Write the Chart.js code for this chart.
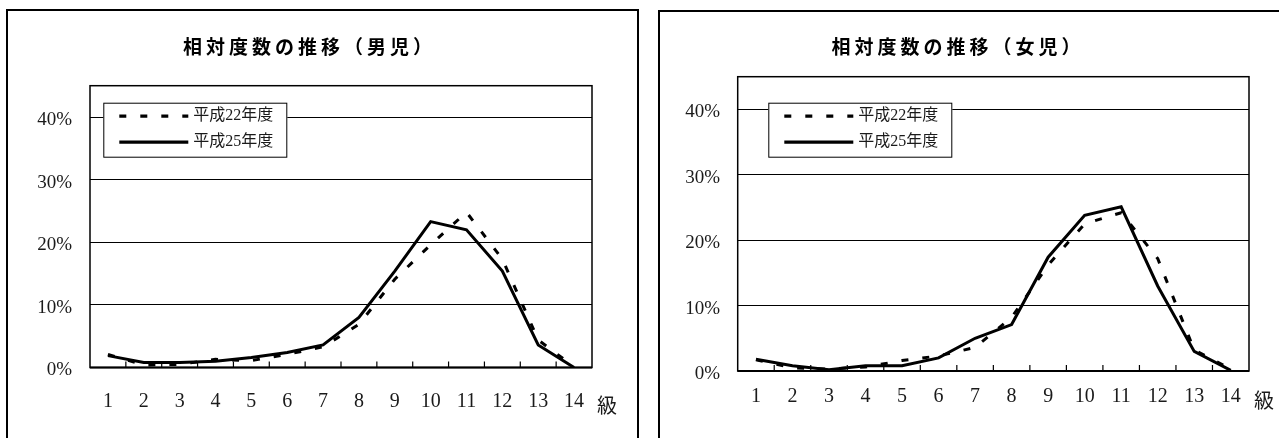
<!DOCTYPE html>
<html>
<head>
<meta charset="utf-8">
<script src="https://cdn.jsdelivr.net/npm/chart.js@4.4.1/dist/chart.umd.min.js"></script>
<style>
  body { margin: 0; background: #fff; width: 1279px; height: 438px; overflow: hidden; position: relative; }
  .frame { position: absolute; border: 2px solid #000; box-sizing: border-box; }
  #frameBoys { left: 6px; top: 9px; width: 633px; height: 500px; }
  #frameGirls { left: 658px; top: 10px; width: 700px; height: 500px; }
  canvas { position: absolute; top: 0; }
  #boys { left: 0; }
  #girls { left: 640px; }
</style>
</head>
<body>
<div class="frame" id="frameBoys"></div>
<div class="frame" id="frameGirls"></div>
<canvas id="boys" width="640" height="438"></canvas>
<canvas id="girls" width="639" height="438"></canvas>
<script>
// 級 (class) 1..14
const categories = ['1', '2', '3', '4', '5', '6', '7', '8', '9', '10', '11', '12', '13', '14']
const seriesLabels = ['平成22年度', '平成25年度']
const unitLabel = '級'
const yTicks = [0, 10, 20, 30, 40]   // %
const yMax = 45

// 相対度数 (%)
const boysH22 = [2.1, 0.4, 0.5, 1.3, 1.1, 2.1, 3.3, 6.9, 14.1, 19.6, 24.8, 17.3, 4.4, 0.1]
const boysH25 = [1.9, 0.8, 0.8, 1.0, 1.6, 2.4, 3.6, 8.0, 15.4, 23.3, 22.0, 15.4, 3.6, 0.0]
const girlsH22 = [1.7, 0.5, 0.3, 0.6, 1.6, 2.3, 3.6, 8.2, 16.2, 22.5, 24.2, 17.2, 3.2, 0.3]
const girlsH25 = [1.8, 0.8, 0.2, 0.8, 0.8, 2.0, 5.0, 7.1, 17.4, 23.8, 25.1, 13.0, 3.0, 0.1]

const serif = '"Liberation Serif", "Noto Sans CJK JP", serif'
const dash = [7, 14]

// title with a bit of letter spacing, like the original
const spacedTitle = {
  id: 'spacedTitle',
  afterInit(chart) {
    const t = chart.titleBlock
    const draw = t.draw.bind(t)
    t.draw = () => {
      chart.ctx.letterSpacing = '4px'
      draw()
      chart.ctx.letterSpacing = '0px'
    }
  }
}

// box around the plot, inner tick marks, legend box inside the plot
const plotFrame = {
  id: 'plotFrame',
  beforeDatasetsDraw(chart, args, opts) {
    const { ctx, chartArea: a } = chart
    const xs = chart.scales.x
    ctx.save()
    ctx.strokeStyle = '#000'
    ctx.lineWidth = 1.5
    ctx.strokeRect(a.left, a.top, a.right - a.left, a.bottom - a.top)

    // tick marks between the categories, pointing up
    ctx.lineWidth = 1.2
    ctx.beginPath()
    for (let i = 1; i < categories.length; i++) {
      const px = (xs.getPixelForValue(i - 1) + xs.getPixelForValue(i)) / 2
      ctx.moveTo(px, a.bottom)
      ctx.lineTo(px, a.bottom - 6)
    }
    ctx.stroke()

    ctx.lineWidth = 2
    ctx.beginPath()
    ctx.moveTo(a.left, a.bottom)
    ctx.lineTo(a.right, a.bottom)
    ctx.stroke()

    // legend
    const x = a.left + opts.dx
    const y = a.top + opts.dy
    ctx.fillStyle = '#fff'
    ctx.fillRect(x, y, 184, 54.5)
    ctx.lineWidth = 1
    ctx.strokeRect(x + 0.5, y + 0.5, 183, 54)
    chart.data.datasets.forEach((ds, i) => {
      const ly = y + 13.5 + i * 26
      ctx.setLineDash(ds.borderDash || [])
      ctx.lineWidth = 3.3
      ctx.beginPath()
      ctx.moveTo(x + 16, ly)
      ctx.lineTo(x + 85, ly)
      ctx.stroke()
      ctx.setLineDash([])
      ctx.fillStyle = '#1a1a1a'
      ctx.font = '16px ' + serif
      ctx.textBaseline = 'middle'
      ctx.fillText(ds.label, x + 90, ly)
    })
    ctx.restore()
  },
  afterDraw(chart, args, opts) {
    // 級 at the end of the category axis
    const { ctx, chartArea: a } = chart
    ctx.save()
    ctx.fillStyle = '#1a1a1a'
    ctx.font = '20px "Noto Sans CJK JP"'
    ctx.textAlign = 'center'
    ctx.textBaseline = 'middle'
    ctx.fillText(unitLabel, a.right + 15, a.bottom + opts.unitDy)
    ctx.restore()
  }
}

function makeChart(id, title, h22, h25, lay) {
  return new Chart(document.getElementById(id), {
    type: 'line',
    data: {
      labels: categories,
      datasets: [
        { label: seriesLabels[0], data: h22, borderColor: '#000', borderWidth: 3, borderDash: dash, pointRadius: 0, tension: 0 },
        { label: seriesLabels[1], data: h25, borderColor: '#000', borderWidth: 3, pointRadius: 0, tension: 0 }
      ]
    },
    options: {
      responsive: false,
      animation: false,
      events: [],
      layout: { padding: { left: 27, right: lay.padRight, top: 0, bottom: 0 } },
      scales: {
        x: {
          offset: true,
          grid: { display: false, drawTicks: false },
          border: { display: false },
          ticks: { color: '#1a1a1a', font: { family: serif, size: 20 }, padding: lay.xPad, maxRotation: 0, autoSkip: false },
          afterFit: s => { s.height = lay.xHeight }
        },
        y: {
          min: 0,
          max: yMax,
          grid: { color: '#000', lineWidth: 1, drawTicks: false },
          border: { display: false },
          afterBuildTicks: s => { s.ticks = yTicks.map(v => ({ value: v })) },
          ticks: { color: '#1a1a1a', font: { family: serif, size: 19 }, padding: lay.yPad, labelOffset: 3, callback: v => v + '%' },
          afterFit: s => { s.width = lay.yWidth }
        }
      },
      plugins: {
        legend: { display: false },
        tooltip: { enabled: false },
        title: {
          display: true,
          text: title,
          color: '#000',
          font: { family: '"Noto Sans CJK JP"', size: 19, weight: 'bold', lineHeight: 1.2 },
          padding: { top: 35.3, bottom: lay.titleBottom }
        },
        plotFrame: { dx: lay.legendDx, dy: lay.legendDy, unitDy: lay.unitDy }
      }
    },
    plugins: [spacedTitle, plotFrame]
  })
}

makeChart('boys', '相対度数の推移（男児）', boysH22, boysH25, {
  padRight: 48, yWidth: 63, yPad: 18, xHeight: 70.5, xPad: 22, titleBottom: 27.6,
  legendDx: 13.3, legendDy: 17, unitDy: 37.5
})
makeChart('girls', '相対度数の推移（女児）', girlsH22, girlsH25, {
  padRight: 30, yWidth: 70.7, yPad: 17.7, xHeight: 67, xPad: 14, titleBottom: 18.6,
  legendDx: 30.6, legendDy: 26, unitDy: 29
})
</script>
</body>
</html>
